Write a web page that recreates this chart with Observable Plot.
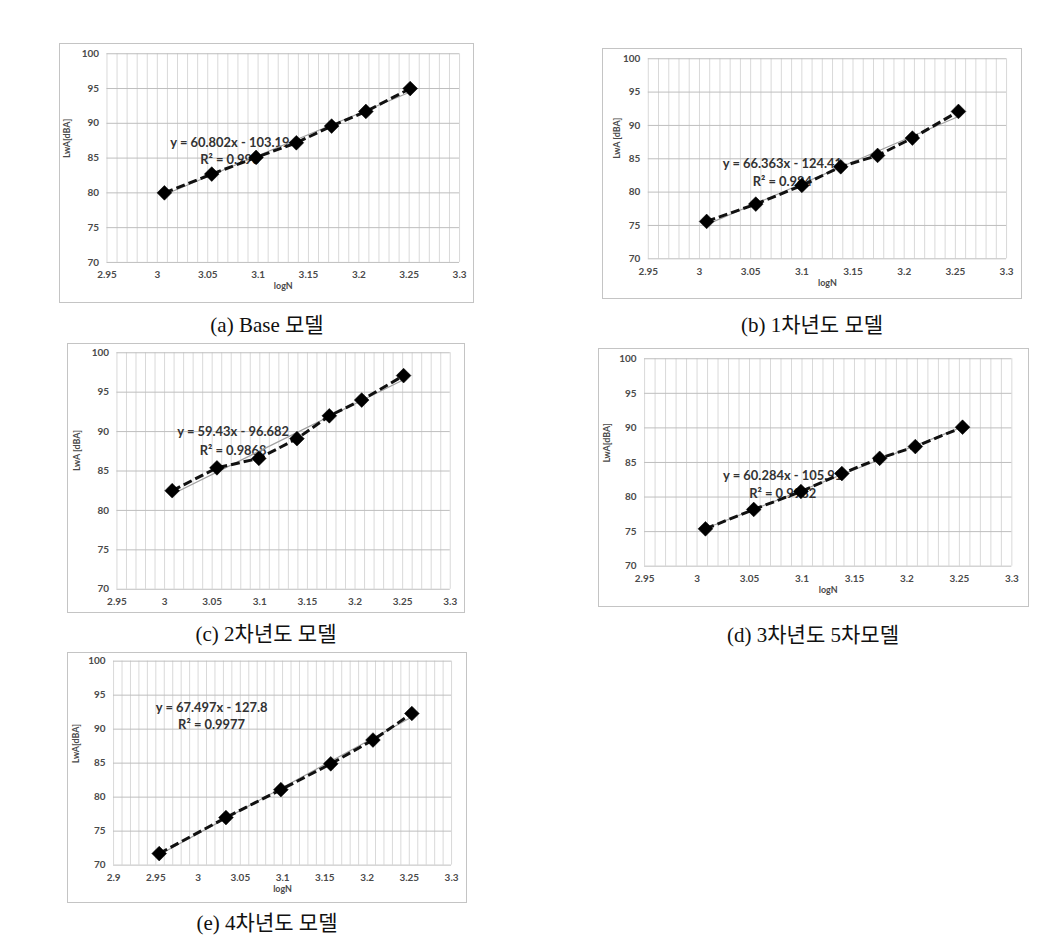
<!DOCTYPE html>
<html><head><meta charset="utf-8">
<script src="https://cdn.jsdelivr.net/npm/d3@7"></script>
<script src="https://cdn.jsdelivr.net/npm/@observablehq/plot@0.6"></script>
<style>
body{margin:0;background:#fff;width:1064px;height:951px;position:relative;overflow:hidden;}
.panel{position:absolute;border:1px solid #c4c4c4;box-sizing:border-box;background:#fff;overflow:hidden}
.panel svg{display:block;position:absolute;left:-1px;top:-1px}
.caption{position:absolute;font-family:"Liberation Serif","DejaVu Serif","Noto Sans CJK KR",serif;font-size:21px;color:#111;transform:translate(-50%,-50%);white-space:nowrap}
</style></head><body>
<script>
// ---- data ----
const xA = [3.007, 3.054, 3.098, 3.138, 3.173, 3.207, 3.251];
const yA = [80.0, 82.7, 85.1, 87.2, 89.6, 91.7, 95.0];
const xB = [3.007, 3.055, 3.100, 3.138, 3.174, 3.208, 3.253];
const yB = [75.6, 78.2, 81.0, 83.8, 85.5, 88.1, 92.1];
const xC = [3.008, 3.055, 3.099, 3.139, 3.173, 3.207, 3.251];
const yC = [82.5, 85.4, 86.6, 89.1, 92.0, 94.0, 97.1];
const xD = [3.008, 3.054, 3.099, 3.138, 3.174, 3.208, 3.253];
const yD = [75.4, 78.2, 80.8, 83.4, 85.6, 87.3, 90.1];
const xE = [2.954, 3.033, 3.098, 3.157, 3.207, 3.253];
const yE = [71.7, 77.0, 81.1, 84.9, 88.4, 92.3];

const eqLines = ["y = 60.802x - 103.19", "y = 66.363x - 124.41", "y = 59.43x - 96.682", "y = 60.284x - 105.91", "y = 67.497x - 127.8"];
const r2Lines = ["R² = 0.996", "R² = 0.984", "R² = 0.9868", "R² = 0.9982", "R² = 0.9977"];
const yLabels = ["LwA[dBA]", "LwA [dBA]", "LwA [dBA]", "LwA[dBA]", "LwA[dBA]"];
const xLabel = "logN";
const captions = ["(a) Base 모델", "(b) 1차년도 모델", "(c) 2차년도 모델", "(d) 3차년도 5차모델", "(e) 4차년도 모델"];
const xTicksAD = [2.95, 3, 3.05, 3.1, 3.15, 3.2, 3.25, 3.3];
const xTicksE = [2.9, 2.95, 3, 3.05, 3.1, 3.15, 3.2, 3.25, 3.3];
const yTicks = [70, 75, 80, 85, 90, 95, 100];

// ---- layout ----
const panels = [
  {x: xA, y: yA, xt: xTicksAD, fl: 59, ft: 43, fr: 474, fb: 303, pl: 106.7, pt: 53.3, pr: 461, pb: 263, eq: [3.072, 87.2, 84.7], yOff: 40, showX: true, cap: [267, 323]},
  {x: xB, y: yB, xt: xTicksAD, fl: 602, ft: 48, fr: 1022, fb: 299, pl: 648, pt: 58.3, pr: 1008, pb: 259.3, eq: [3.081, 84.2, 81.6], yOff: 31, showX: true, cap: [812, 323]},
  {x: xC, y: yC, xt: xTicksAD, fl: 67, ft: 343, fr: 465, fb: 613, pl: 116.7, pt: 352.3, pr: 451.7, pb: 590, eq: [3.072, 90.0, 87.5], yOff: 40, showX: false, cap: [266, 632]},
  {x: xD, y: yD, xt: xTicksAD, fl: 598, ft: 348, fr: 1029, fb: 607, pl: 644.3, pt: 358.3, pr: 1013.3, pb: 566.7, eq: [3.0816, 83.0, 80.4], yOff: 38, showX: true, cap: [813, 633]},
  {x: xE, y: yE, xt: xTicksE, fl: 67, ft: 652, fr: 467, fb: 903, pl: 113.3, pt: 660.7, pr: 453, pb: 865.7, eq: [3.016, 93.2, 90.7], yOff: 38, showX: true, cap: [267, 921]}
];

const fmt = d => String(+d.toFixed(2));
const font = "Lato, 'Open Sans', 'DejaVu Sans', sans-serif";

panels.forEach((p, i) => {
  const data = p.x.map((x, k) => ({x, y: p.y[k]}));
  const xDomain = [p.xt[0], p.xt[p.xt.length - 1]];
  const minor = d3.range(Math.round(xDomain[0] * 100), Math.round(xDomain[1] * 100) + 1).map(d => d / 100);
  const W = p.fr - p.fl, H = p.fb - p.ft;
  const marks = [
    Plot.gridX(minor, {stroke: "#d9d9d9", strokeOpacity: 1, strokeWidth: 1}),
    Plot.gridY(yTicks, {stroke: "#bdbdbd", strokeOpacity: 1, strokeWidth: 1}),
    Plot.axisX(p.xt, {tickFormat: fmt, tickSize: 0, tickPadding: 9, label: null, fontSize: 10, fontWeight: "bold", fill: "#4a4a4a"}),
    Plot.axisY(yTicks, {tickSize: 0, tickPadding: 8, label: null, fontSize: 10, fontWeight: "bold", fill: "#4a4a4a"}),
    Plot.text([yLabels[i]], {text: d => d, frameAnchor: "left", dx: -p.yOff, rotate: -90, fontSize: 9, fontWeight: "bold", fill: "#4a4a4a"}),
    Plot.text([eqLines[i]], {text: d => d, x: () => p.eq[0], y: () => p.eq[1], fontSize: 13, fontWeight: "bold", fill: "#333"}),
    Plot.text([r2Lines[i]], {text: d => d, x: () => p.eq[0], y: () => p.eq[2], fontSize: 13, fontWeight: "bold", fill: "#333"}),
    Plot.linearRegressionY(data, {x: "x", y: "y", stroke: "#a0a0a0", strokeWidth: 1.2, ci: 0}),
    Plot.line(data, {x: "x", y: "y", stroke: "#111", strokeWidth: 3, strokeDasharray: "9,4", strokeLinecap: "butt"}),
    Plot.dot(data, {x: "x", y: "y", symbol: "square", r: 5.9, rotate: 45, fill: "#000", stroke: "#000", strokeWidth: 0.5})
  ];
  if (p.showX) marks.push(Plot.text([xLabel], {text: d => d, frameAnchor: "bottom", dy: 27, fontSize: 9, fontWeight: "bold", fill: "#4a4a4a"}));
  const chart = Plot.plot({
    width: W, height: H,
    marginLeft: p.pl - p.fl, marginRight: p.fr - p.pr, marginTop: p.pt - p.ft, marginBottom: p.fb - p.pb,
    style: {fontFamily: font, background: "transparent", overflow: "visible"},
    x: {domain: xDomain},
    y: {domain: [70, 100]},
    marks
  });
  const div = document.createElement("div");
  div.className = "panel";
  Object.assign(div.style, {left: p.fl + "px", top: p.ft + "px", width: W + "px", height: H + "px"});
  div.appendChild(chart);
  document.body.appendChild(div);
  const cap = document.createElement("div");
  cap.className = "caption";
  cap.textContent = captions[i];
  Object.assign(cap.style, {left: p.cap[0] + "px", top: p.cap[1] + "px"});
  document.body.appendChild(cap);
});
</script>
</body></html>
